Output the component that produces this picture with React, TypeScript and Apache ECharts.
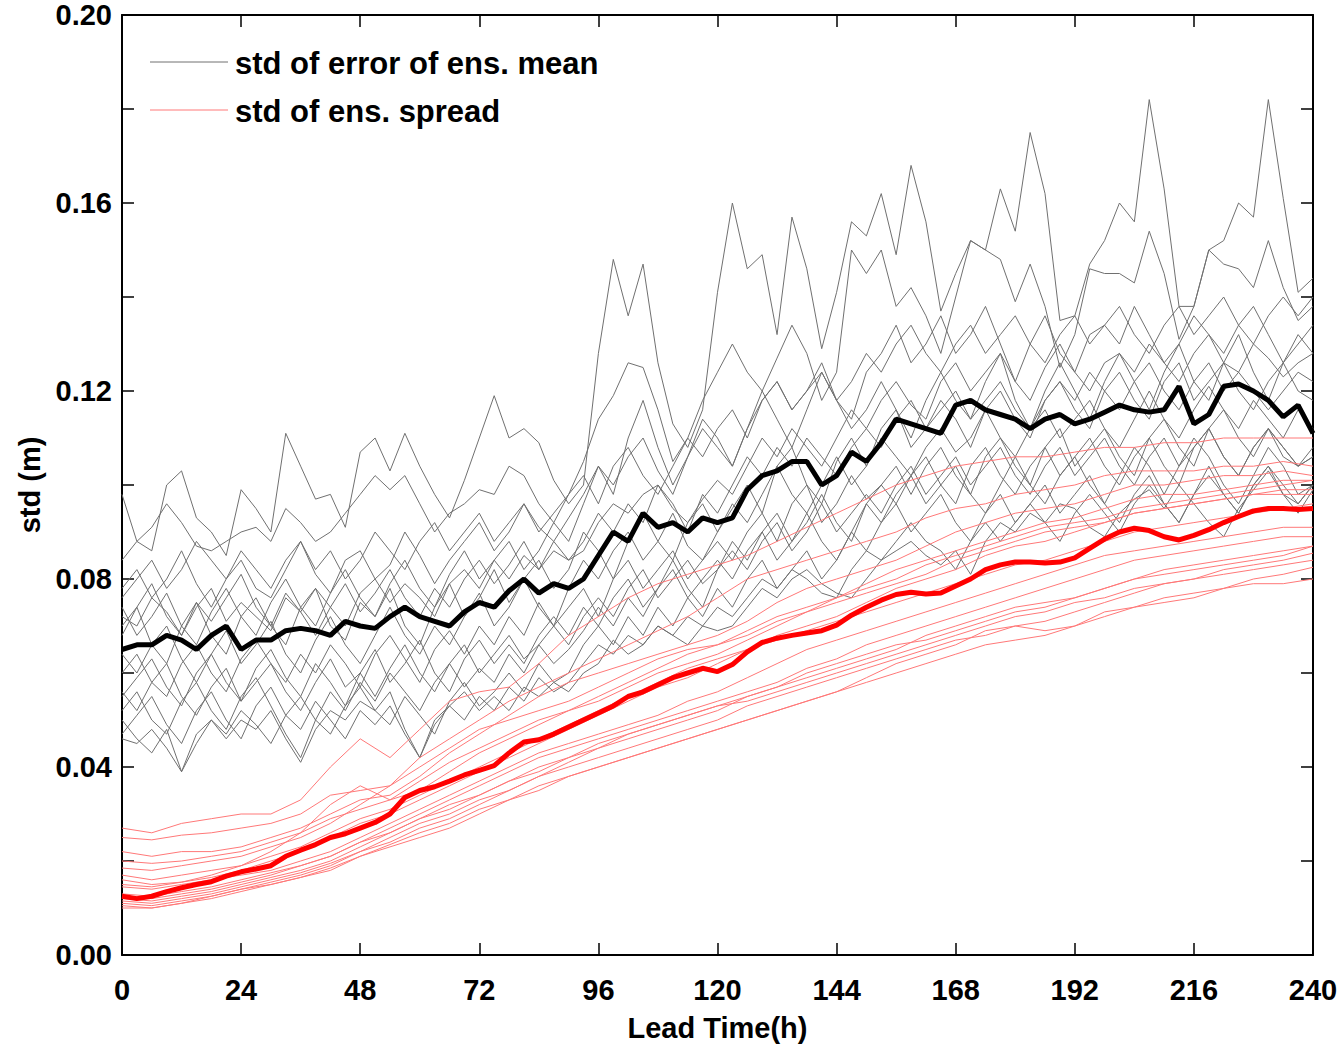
import React, { useEffect, useRef } from "react";
import * as echarts from "echarts";

// Lead times (h)
const HOURS_3 = [0,3,6,9,12,15,18,21,24,27,30,33,36,39,42,45,48,51,54,57,60,63,66,69,72,75,78,81,84,87,90,93,96,99,102,105,108,111,114,117,120,123,126,129,132,135,138,141,144,147,150,153,156,159,162,165,168,171,174,177,180,183,186,189,192,195,198,201,204,207,210,213,216,219,222,225,228,231,234,237,240];
const HOURS_6 = [0,6,12,18,24,30,36,42,48,54,60,66,72,78,84,90,96,102,108,114,120,126,132,138,144,150,156,162,168,174,180,186,192,198,204,210,216,222,228,234,240];

const X_TICKS = [0, 24, 48, 72, 96, 120, 144, 168, 192, 216, 240];
const Y_LABELS = ["0.00", "0.04", "0.08", "0.12", "0.16", "0.20"];

// Values in mm (converted to m when the series are built)
const ERR_MEAN_MM = [65,66,66,68,67,65,68,70,65,67,67,69,69.5,69,68,71,70,69.5,72,74,72,71,70,73,75,74,77.5,80,77,79,78,80,85,90,88,94,91,92,90,93,92,93,99,102,103,105,105,100,102,107,105,109,114,113,112,111,117,118,116,115,114,112,114,115,113,114,115.5,117,116,115.5,116,121,113,115,121,121.5,120,118,114.5,117,111];

const SPREAD_MEAN_MM = [12.5,12,12.5,13.5,14.3,15,15.6,16.8,17.7,18.3,19,21,22.3,23.5,25,25.8,27,28.2,30,33.5,35,35.8,37,38.3,39.3,40.3,43,45.3,45.8,47,48.5,50,51.5,53,55,56,57.5,59,60,61,60.3,61.8,64.5,66.5,67.4,68,68.5,69,70.2,72.3,74,75.5,76.7,77.2,76.8,77,78.5,80,82,83,83.6,83.6,83.4,83.6,84.5,86.5,88.5,90,90.8,90.3,89,88.3,89.3,90.5,92,93.3,94.5,95,95,94.8,95];

// Error members (3-hourly, mm)
const ERR_M01 = [98,88,86,100,103,93,90,85,99,95,90,111,104,97,98,91,107,110,103,111,104,98,93,101,110,119,110,112,109,101,96,100,128,148,136,147,126,113,108,116,141,160,146,149,132,157,146,129,141,156,153,162,149,168,156,137,145,152,150,163,154,175,162,135,136,147,152,160,156,182,163,138,138,150,152,160,157,182,161,141,144];
const ERR_M02 = [84,88,91,96,92,87,86,88,90,91,88,95,92,88,90,94,98,102,99,102,96,90,94,96,99,98,104,102,96,92,98,105,114,119,126,125,116,105,110,118,124,130,124,120,127,134,128,118,124,150,145,150,138,142,136,128,140,152,150,148,139,147,138,125,132,146,145,145,143,154,145,131,138,150,147,146,142,152,142,135,138];
const ERR_M03 = [78,82,76,80,86,79,74,80,84,78,76,82,88,81,77,84,86,80,83,90,85,79,84,88,92,86,90,96,91,88,93,98,104,100,106,110,103,98,106,112,108,104,112,118,122,116,120,126,118,114,124,128,134,126,130,136,128,132,138,130,122,130,136,128,124,132,134,130,138,132,126,130,136,132,128,134,138,132,126,130,134];
const ERR_M04 = [72,70,76,73,68,74,78,71,75,72,69,76,73,78,74,70,77,80,75,79,76,72,79,82,78,84,80,85,82,88,84,86,92,96,94,98,100,95,92,97,101,98,104,110,106,112,108,104,110,116,112,118,122,117,114,122,126,120,124,128,122,118,125,130,124,120,126,128,124,130,126,122,128,132,126,124,130,127,123,126,128];
const ERR_M05 = [68,74,66,62,70,75,68,64,72,76,70,66,74,78,70,67,75,72,78,70,66,74,79,72,76,82,75,80,84,78,82,90,86,80,88,94,88,84,92,96,90,95,100,94,104,108,100,96,105,110,104,112,116,108,112,118,114,108,116,120,114,110,118,122,116,112,120,124,118,114,122,126,118,122,126,120,116,122,126,120,118];
const ERR_M06 = [64,60,66,70,63,58,64,69,62,66,71,64,60,67,72,66,62,68,74,68,64,70,66,72,77,70,74,80,74,70,78,84,80,86,90,84,88,94,87,84,90,96,92,98,104,98,94,100,106,100,104,110,106,102,108,112,107,110,116,110,106,112,116,110,114,118,112,108,114,120,114,110,116,121,116,112,118,114,110,116,112];
const ERR_M07 = [60,64,58,55,62,66,60,56,63,67,62,58,64,60,66,62,57,64,68,63,58,65,69,64,70,66,72,68,75,70,74,78,72,80,84,78,82,86,80,84,88,84,90,94,88,96,100,92,96,102,97,100,104,98,104,108,102,98,106,110,104,100,108,112,104,108,112,106,102,110,114,108,104,112,116,110,106,112,108,104,106];
const ERR_M08 = [56,52,58,62,55,51,57,61,54,58,62,56,52,58,63,57,60,55,61,66,60,56,62,66,60,64,68,63,66,70,66,72,76,72,78,82,76,80,84,79,82,86,82,88,92,86,90,96,90,94,98,94,100,104,98,102,106,100,104,108,102,98,104,108,102,106,110,104,100,106,110,104,108,112,106,102,108,112,106,104,108];
const ERR_M09 = [52,56,50,47,54,58,52,48,55,59,53,47,42,50,56,52,58,54,60,56,52,58,62,57,61,58,64,60,66,62,65,69,74,70,76,72,78,82,76,80,84,80,86,90,84,88,94,88,84,90,96,92,98,102,96,100,104,98,94,100,106,100,96,102,106,100,96,102,108,104,98,104,110,106,100,96,102,108,104,98,100];
const ERR_M10 = [50,46,43,48,39,45,50,47,52,49,45,51,55,50,47,53,57,52,49,55,51,47,54,58,53,56,60,56,62,58,60,66,70,66,72,68,74,70,76,72,78,74,80,84,78,82,86,80,84,90,86,92,96,90,94,98,92,88,94,98,92,96,100,94,98,102,96,92,98,102,96,92,98,104,98,94,100,104,98,96,100];
const ERR_M11 = [76,80,84,78,82,88,84,80,86,82,78,84,88,82,86,80,84,90,86,82,88,92,86,90,94,88,92,96,90,94,98,102,96,104,108,102,98,104,110,106,112,116,110,118,122,116,120,124,118,122,128,124,130,134,128,124,130,134,128,132,136,130,126,132,136,130,134,138,132,128,134,138,132,136,140,134,130,136,140,136,140];
const ERR_M12 = [47,51,55,49,45,52,56,50,46,53,57,51,48,54,50,46,52,49,53,47,42,49,53,50,55,52,57,54,59,56,58,62,66,64,68,66,70,68,72,70,74,72,76,80,78,82,80,77,76,82,86,84,88,92,88,86,82,88,92,88,92,96,92,88,94,98,94,90,96,100,96,92,98,102,98,94,100,104,100,96,100];
const ERR_M13 = [74,68,72,77,70,66,73,78,72,68,75,80,74,70,77,82,76,72,79,84,78,74,81,86,80,84,88,82,86,92,88,96,104,98,110,118,108,100,106,114,110,104,112,120,114,108,116,124,118,112,116,122,116,110,118,124,118,114,122,128,118,112,120,126,120,114,122,128,122,116,124,130,122,118,126,132,124,118,126,132,128];
const ERR_M14 = [46,45,48,44,39,47,50,46,50,48,52,46,41,48,52,50,54,52,56,48,42,50,53,56,52,55,52,57,55,58,56,60,62,67,64,66,70,68,66,70,69,70,74,78,76,80,82,79,77,76,80,84,86,88,85,83,86,81,88,92,90,94,92,96,95,91,89,94,97,99,95,100,96,92,89,95,99,103,98,94,99];
const ERR_M15 = [70,74,79,72,68,75,71,76,81,74,70,77,73,68,74,79,73,77,82,76,72,78,74,80,84,79,83,88,82,86,84,88,94,90,96,92,100,96,90,98,94,100,106,102,108,104,110,106,102,108,112,108,114,118,112,116,120,114,118,122,116,112,118,122,118,124,120,116,122,126,120,116,122,126,120,124,120,116,120,124,122];
const ERR_M16 = [55,59,63,57,53,60,64,58,54,61,65,59,55,62,58,53,60,65,58,62,67,60,56,63,67,62,66,62,68,72,68,74,70,76,80,74,78,84,78,74,82,88,84,90,94,88,92,98,92,88,96,100,96,102,106,100,96,104,108,102,98,104,108,102,106,110,104,100,106,110,104,100,108,112,106,102,108,112,108,104,106];

// Spread members (6-hourly, mm)
const SPR_M01 = [27,26,28,29,30,30,33,40,46,42,48,54,56,57,62,68,72,76,79,81,83,85,88,91,94,97,100,102,104,105,106,106,107,108,108,109,109,110,110,110,110];
const SPR_M02 = [25,24.5,25.5,26,27,28,30,34,35,36,42,46,50,54,57,60,63,66,69,72,76,80,82,84,86,88,90,93,95,96,98,99,100,102,103,103,103,104,104,105,104];
const SPR_M03 = [22,21,22,22,23,25,27,30,33,34,38,43,47,51,55,58,60,62,64,66,68,71,75,78,80,82,84,87,90,92,94,95,96,98,100,100,101,102,102,103,102];
const SPR_M04 = [18.5,18,19,20,21,23,25,28,32,36,40,44,48,50,52,54,57,60,63,65,66,68,71,73,76,79,82,84,86,88,90,92,93,95,97,98,98,99,100,101,101];
const SPR_M05 = [17,16,17,18,19,21,23,26,29,31,34,37,40,43,46,49,52,55,58,61,63,65,68,70,72,75,78,80,82,85,87,88,90,92,94,95,96,97,98,99,99];
const SPR_M06 = [16,15,15.5,16.5,18,20,22,25,28,30,33,36,39,42,45,48,51,54,57,59,62,65,67,69,71,73,75,77,79,81,83,84,86,88,90,91,92,93,94,95,96];
const SPR_M07 = [14.5,14,15,16,17,18,20,22,25,28,31,34,37,40,43,45,47,49,51,54,56,59,62,65,67,69,71,73,75,77,79,81,83,85,86,87,88,89,90,91,91];
const SPR_M08 = [13,12.5,13.5,14.5,16,17.5,19,21,24,27,30,33,36,39,42,44,46,48,50,52,54,56,58,61,63,66,68,70,72,74,76,78,80,82,84,85,86,87,88,89,89];
const SPR_M09 = [12,11.5,12.5,13.5,15,16.5,18,20,23,26,29,32,34,37,40,42,44,46,48,50,52,55,57,59,61,63,65,68,70,72,74,75,76,78,80,82,83,84,85,86,87];
const SPR_M10 = [11.5,11,12,13,14.5,16,17.5,19.5,22,25,28,30,33,35,38,40,42,44,46,48,50,53,55,57,59,61,63,65,67,68,70,71,73,75,77,79,80,82,83,84,85.5];
const SPR_M11 = [11,10.5,11.5,12.5,14,15,16.5,18.5,21,23.5,26,28,31,33,36,38,40,42,44,46,48,50,52,54,56,58,60,62,64,66,67,68,70,72,74,76,77,78,80,81,82.5];
const SPR_M12 = [10,10,11,12,13.5,15,16.5,18,21,23,25,27,30,33,35,38,40,42,44,46,48,50,52,54,56,59,62,64,66,69,70,69,70,73,74,75,76,78,79,79,80];
const SPR_M13 = [10.5,10,11,12.5,14,15.5,17,19,22,24,27,29,32,35,38,41,44,47,49,51,53,55,57,60,62,64,66,67,69,71,73,74,76,78,80,81,82,83,84,85,87];
const SPR_M14 = [20,19.5,20,21,22,24,26,29,31,33,37,41,44,47,50,52,54,57,60,62,64,67,70,73,75,77,79,81,84,86,88,90,91,92,94,95,96,97,98,98,98];
const SPR_M15 = [15,14.5,15.5,17,19,22,26,32,36,33,35,39,43,46,49,52,55,58,61,64,66,69,72,74,76,78,80,83,85,87,89,91,92,93,95,96,97,98,99,100,101];
const SPR_M16 = [12.5,12,13,14,15.5,17,19,21,24,26,29,31,34,37,39,42,45,47,49,51,53,54,56,58,60,62,64,66,68,70,72,73,75,76,78,79,80,81,82,83,84];

const ERR_MEMBERS = [ERR_M01, ERR_M02, ERR_M03, ERR_M04, ERR_M05, ERR_M06, ERR_M07, ERR_M08, ERR_M09, ERR_M10, ERR_M11, ERR_M12, ERR_M13, ERR_M14, ERR_M15, ERR_M16];
const SPR_MEMBERS = [SPR_M01, SPR_M02, SPR_M03, SPR_M04, SPR_M05, SPR_M06, SPR_M07, SPR_M08, SPR_M09, SPR_M10, SPR_M11, SPR_M12, SPR_M13, SPR_M14, SPR_M15, SPR_M16];

const ERR_NAME = "std of error of ens. mean";
const SPR_NAME = "std of ens. spread";

const GRAY = "#707070";
const PINK = "#ff7878";
const FONT = "'Liberation Sans', Arial, Helvetica, sans-serif";

const toPairs = (hours: number[], vals: number[]) => vals.map((v, i) => [hours[i], v / 1000]);

export default function App() {
  const ref = useRef<HTMLDivElement>(null);

  useEffect(() => {
    if (!ref.current) return;
    const chart = echarts.init(ref.current, undefined, { renderer: "svg" });

    const series: any[] = [];
    ERR_MEMBERS.forEach((m) => {
      series.push({
        type: "line",
        name: ERR_NAME,
        data: toPairs(HOURS_3, m),
        symbol: "none",
        lineStyle: { color: GRAY, width: 1 },
        itemStyle: { color: GRAY },
        z: 2,
        silent: true,
      });
    });
    SPR_MEMBERS.forEach((m) => {
      series.push({
        type: "line",
        name: SPR_NAME,
        data: toPairs(HOURS_6, m),
        symbol: "none",
        lineStyle: { color: PINK, width: 1 },
        itemStyle: { color: PINK },
        z: 3,
        silent: true,
      });
    });
    series.push({
      type: "line",
      name: "mean std of error",
      data: toPairs(HOURS_3, ERR_MEAN_MM),
      symbol: "none",
      lineStyle: { color: "#000000", width: 5 },
      itemStyle: { color: "#000000" },
      z: 5,
      silent: true,
    });
    series.push({
      type: "line",
      name: "mean std of spread",
      data: toPairs(HOURS_3, SPREAD_MEAN_MM),
      symbol: "none",
      lineStyle: { color: "#ff0000", width: 5 },
      itemStyle: { color: "#ff0000" },
      z: 6,
      silent: true,
    });

    const axisLine = { show: true, onZero: false, lineStyle: { color: "#000", width: 2 } };
    const axisTick = { show: true, inside: true, length: 12, lineStyle: { color: "#000", width: 1.5 } };
    const yFormatter = (v: number) => {
      const s = v.toFixed(2);
      return Y_LABELS.indexOf(s) >= 0 ? s : "";
    };
    const xFormatter = (v: number) => (X_TICKS.indexOf(v) >= 0 ? String(v) : "");

    const legendText = { fontSize: 31, fontWeight: "bold", fontFamily: FONT, fill: "#000", verticalAlign: "middle", align: "left" };

    chart.setOption({
      animation: false,
      backgroundColor: "#ffffff",
      textStyle: { fontFamily: FONT },
      grid: {
        left: 122,
        right: 27,
        top: 15,
        bottom: 92,
        containLabel: false,
        outerBoundsMode: "none",
      },
      graphic: [
        {
          type: "line",
          shape: { x1: 150, y1: 62, x2: 228, y2: 62 },
          style: { stroke: GRAY, lineWidth: 1 },
          z: 100,
        },
        {
          type: "text",
          x: 235,
          y: 63,
          style: { ...legendText, text: ERR_NAME },
          z: 100,
        },
        {
          type: "line",
          shape: { x1: 150, y1: 110, x2: 228, y2: 110 },
          style: { stroke: PINK, lineWidth: 1 },
          z: 100,
        },
        {
          type: "text",
          x: 235,
          y: 111,
          style: { ...legendText, text: SPR_NAME },
          z: 100,
        },
      ],
      xAxis: [
        {
          type: "value",
          position: "bottom",
          min: 0,
          max: 240,
          interval: 24,
          name: "Lead Time(h)",
          nameLocation: "middle",
          nameGap: 58,
          nameTextStyle: { fontSize: 29, fontWeight: "bold", color: "#000", fontFamily: FONT },
          axisLine,
          axisTick,
          splitLine: { show: false },
          axisLabel: { show: true, fontSize: 29, fontWeight: "bold", color: "#000", margin: 20, formatter: xFormatter, fontFamily: FONT },
        },
        {
          type: "value",
          position: "top",
          min: 0,
          max: 240,
          interval: 24,
          axisLine,
          axisTick,
          splitLine: { show: false },
          axisLabel: { show: false },
        },
      ],
      yAxis: [
        {
          type: "value",
          position: "left",
          min: 0,
          max: 0.2,
          interval: 0.02,
          name: "std (m)",
          nameLocation: "middle",
          nameRotate: 90,
          nameGap: 78,
          nameTextStyle: { fontSize: 29, fontWeight: "bold", color: "#000", fontFamily: FONT },
          axisLine,
          axisTick,
          splitLine: { show: false },
          axisLabel: { show: true, fontSize: 29, fontWeight: "bold", color: "#000", margin: 10, formatter: yFormatter, fontFamily: FONT },
        },
        {
          type: "value",
          position: "right",
          min: 0,
          max: 0.2,
          interval: 0.02,
          axisLine,
          axisTick,
          splitLine: { show: false },
          axisLabel: { show: false },
        },
      ],
      series,
    });

    return () => {
      chart.dispose();
    };
  }, []);

  return (
    <div
      ref={ref}
      style={{ position: "absolute", left: 0, top: 0, width: 1340, height: 1047, background: "#fff" }}
    />
  );
}
